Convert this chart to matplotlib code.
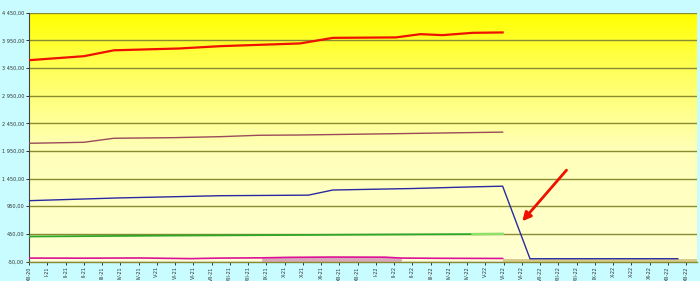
import numpy as np
import matplotlib
matplotlib.use("Agg")
import matplotlib.pyplot as plt
from matplotlib.colors import LinearSegmentedColormap

# ---- data (x in months since XII-20) ----
tick_labels = ["XII-20", "I-21", "II-21", "II-21", "III-21", "IV-21", "IV-21", "V-21", "VI-21",
               "VI-21", "VII-21", "VIII-21", "VIII-21", "IX-21", "X-21", "X-21", "XI-21", "XII-21",
               "XII-21", "I-22", "II-22", "II-22", "III-22", "IV-22", "IV-22", "V-22", "VI-22",
               "VI-22", "VII-22", "VIII-22", "VIII-22", "IX-22", "X-22", "X-22", "XI-22", "XII-22",
               "XII-22"]
tick_step = 2.0 / 3.0

red_x = [0.0, 2.0, 3.1, 5.5, 7.0, 9.9, 11.1, 13.4, 14.3, 15.1, 16.2, 17.3]
red_y = [3591, 3663, 3770, 3803, 3845, 3894, 3995, 4003, 4062, 4044, 4086, 4093]

brown_x = [0.0, 2.0, 3.1, 5.3, 7.0, 8.4, 9.9, 13.4, 17.3]
brown_y = [2088, 2106, 2179, 2190, 2208, 2233, 2238, 2262, 2290]

blue_x = [0.0, 3.3, 7.0, 10.2, 11.1, 14.0, 16.2, 17.3, 18.3, 23.7]
blue_y = [1050, 1100, 1140, 1150, 1243, 1270, 1300, 1312, 0, 0]

green_x = [0.0, 5.0, 10.0, 14.0, 17.3]
green_y = [402, 418, 430, 440, 447]
green_light_x = [16.2, 17.3]
green_light_y = [445, 450]

magenta_x = [0.0, 2.0, 4.0, 5.9, 7.0, 8.5, 9.5, 11.0, 13.0, 13.6, 15.0, 17.3]
magenta_y = [12, 10, 14, 2, 12, 16, 25, 30, 28, 12, 8, 5]

pink_x = [8.5, 9.5, 11.0, 13.0, 13.6]
pink_y = [16, 30, 38, 35, 12]

tan_x = [17.3, 24.4]
tan_y = [-5, -5]

# ---- figure ----
fig = plt.figure(figsize=(7.0, 2.81), dpi=100)
fig.patch.set_facecolor("#c8fcff")
ax = fig.add_axes([29 / 700, 19.5 / 281, 668 / 700, 248.8 / 281])

ymin, ymax = -50, 4450
xmin, xmax = 0, 24.4
ax.set_xlim(xmin, xmax)
ax.set_ylim(ymin, ymax)

# gradient background
cmap = LinearSegmentedColormap.from_list(
    "bg", [(0.0, "#ffffd2"), (0.45, "#ffffb8"), (0.75, "#ffff60"), (1.0, "#ffff00")])
grad = np.linspace(0, 1, 256).reshape(-1, 1)
ax.imshow(grad, extent=[0, 1, 0, 1], transform=ax.transAxes, origin="lower",
          aspect="auto", cmap=cmap, zorder=0)

yticks = np.arange(-50, 4451, 500)
for yv in yticks:
    ax.axhline(yv, color="#8a8a30", lw=1.0, zorder=1)

def fmt(v):
    s = f"{abs(v):,.2f}".replace(",", " ").replace(".", ",")
    return ("-" if v < 0 else "") + s

ax.set_yticks(yticks)
ax.set_yticklabels([fmt(v) for v in yticks], fontsize=3.6, color="#333333")
xt = [i * tick_step for i in range(len(tick_labels))]
ax.set_xticks(xt)
ax.set_xticklabels(tick_labels, rotation=90, fontsize=3.6, color="#333333")
ax.tick_params(axis="both", length=2.5, width=0.7, color="#333333", pad=1.0)

for s in ["top", "right"]:
    ax.spines[s].set_visible(False)
ax.spines["left"].set_color("#444444")
ax.spines["left"].set_linewidth(0.8)
ax.spines["bottom"].set_color("#8a8a30")
ax.spines["bottom"].set_linewidth(1.0)

# areas
ax.fill_between(tan_x, [ymin, ymin], tan_y, color="#d8cc8c", zorder=2, lw=0)
ax.fill_between(pink_x, [ymin] * len(pink_x), pink_y, color="#d8a8b8", zorder=2, lw=0)

# lines
ax.plot(magenta_x, magenta_y, color="#dd1199", lw=1.2, zorder=3)
ax.plot(green_x, green_y, color="#2ea82a", lw=1.3, zorder=3)
ax.plot(green_light_x, green_light_y, color="#8ee06a", lw=1.8, zorder=3)
ax.plot(blue_x, blue_y, color="#2a2aa0", lw=1.0, zorder=3)
ax.plot(brown_x, brown_y, color="#9a4a5a", lw=1.0, zorder=3)
ax.plot(red_x, red_y, color="#ee1100", lw=1.6, zorder=4)

# arrow annotation
ax.annotate("", xy=(17.95, 640), xytext=(19.7, 1640),
            arrowprops=dict(arrowstyle="-|>,head_length=0.5,head_width=0.25",
                            color="#ee1100", lw=2.0), zorder=5)

fig.savefig("out.png", dpi=100, facecolor=fig.get_facecolor())
